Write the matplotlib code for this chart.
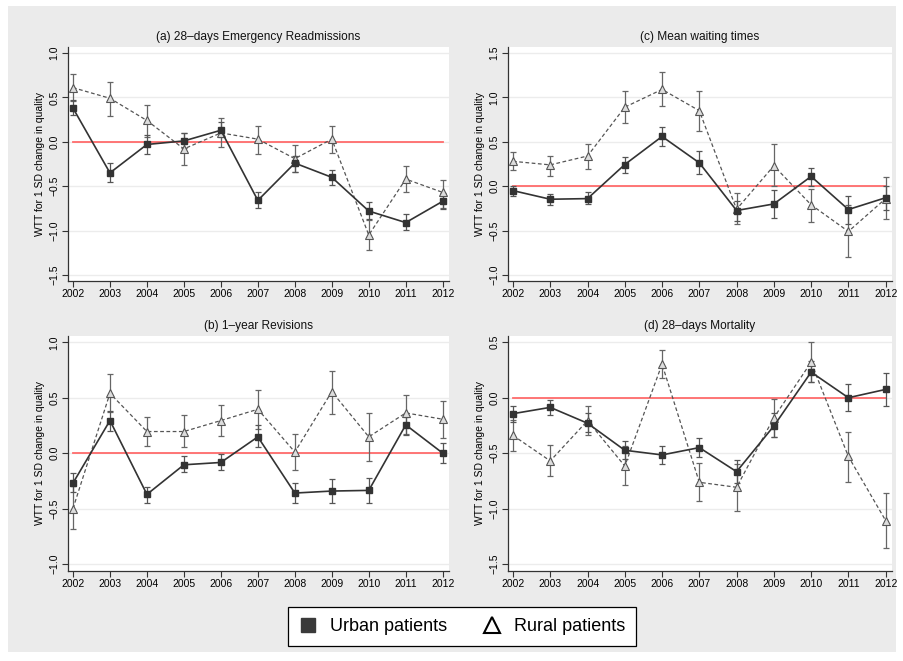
import matplotlib
matplotlib.use("Agg")
import matplotlib.pyplot as plt
from matplotlib.lines import Line2D
from matplotlib.patches import Rectangle

plt.rcParams['font.family'] = ['Liberation Sans', 'DejaVu Sans']

years = [2002, 2003, 2004, 2005, 2006, 2007, 2008, 2009, 2010, 2011, 2012]

# (a) 28-days Emergency Readmissions
a_urban = [0.38, -0.35, -0.03, 0.01, 0.13, -0.66, -0.24, -0.40, -0.78, -0.91, -0.67]
a_urban_lo = [0.30, -0.455, -0.135, -0.07, 0.05, -0.75, -0.34, -0.49, -0.865, -0.99, -0.755]
a_urban_hi = [0.47, -0.24, 0.08, 0.10, 0.22, -0.57, -0.165, -0.315, -0.68, -0.815, -0.58]
a_rural = [0.61, 0.49, 0.24, -0.08, 0.10, 0.03, -0.19, 0.03, -1.05, -0.42, -0.57]
a_rural_lo = [0.455, 0.29, 0.05, -0.26, -0.056, -0.135, -0.335, -0.13, -1.22, -0.57, -0.75]
a_rural_hi = [0.76, 0.67, 0.41, 0.10, 0.27, 0.18, -0.04, 0.18, -0.88, -0.27, -0.43]

# (b) 1-year Revisions
b_urban = [-0.27, 0.294, -0.372, -0.105, -0.084, 0.147, -0.36, -0.342, -0.336, 0.255, 0.0]
b_urban_lo = [-0.355, 0.204, -0.45, -0.174, -0.156, 0.054, -0.45, -0.45, -0.45, 0.165, -0.09]
b_urban_hi = [-0.18, 0.38, -0.306, -0.03, -0.012, 0.25, -0.27, -0.234, -0.225, 0.33, 0.096]
b_rural = [-0.50, 0.54, 0.195, 0.195, 0.294, 0.396, 0.01, 0.555, 0.147, 0.363, 0.306]
b_rural_lo = [-0.685, 0.375, 0.06, 0.054, 0.156, 0.22, -0.156, 0.354, -0.075, 0.174, 0.141]
b_rural_hi = [-0.30, 0.71, 0.33, 0.34, 0.43, 0.57, 0.174, 0.74, 0.366, 0.525, 0.474]

# (c) Mean waiting times
c_urban = [-0.05, -0.147, -0.14, 0.244, 0.56, 0.263, -0.274, -0.20, 0.11, -0.263, -0.13]
c_urban_lo = [-0.105, -0.21, -0.20, 0.15, 0.45, 0.135, -0.39, -0.36, 0.0, -0.425, -0.27]
c_urban_hi = [0.0, -0.09, -0.064, 0.33, 0.67, 0.395, -0.17, -0.04, 0.21, -0.105, 0.0]
c_rural = [0.28, 0.24, 0.34, 0.89, 1.09, 0.85, -0.26, 0.23, -0.21, -0.51, -0.14]
c_rural_lo = [0.18, 0.12, 0.19, 0.71, 0.90, 0.62, -0.425, 0.0, -0.40, -0.80, -0.37]
c_rural_hi = [0.39, 0.345, 0.475, 1.07, 1.29, 1.07, -0.08, 0.475, -0.03, -0.21, 0.10]

# (d) 28-days Mortality
d_urban = [-0.144, -0.087, -0.23, -0.474, -0.516, -0.45, -0.667, -0.255, 0.231, 0.0, 0.075]
d_urban_lo = [-0.216, -0.156, -0.306, -0.555, -0.60, -0.537, -0.77, -0.35, 0.144, -0.117, -0.075]
d_urban_hi = [-0.072, -0.02, -0.14, -0.387, -0.432, -0.36, -0.56, -0.14, 0.33, 0.12, 0.225]
d_rural = [-0.34, -0.57, -0.207, -0.616, 0.303, -0.763, -0.808, -0.18, 0.32, -0.53, -1.108]
d_rural_lo = [-0.483, -0.71, -0.336, -0.787, 0.174, -0.93, -1.02, -0.35, 0.144, -0.757, -1.357]
d_rural_hi = [-0.20, -0.43, -0.075, -0.44, 0.43, -0.59, -0.60, -0.012, 0.50, -0.306, -0.86]

panels = [
    ("(a) 28\u2013days Emergency Readmissions", [0.0752, 0.5749, 0.4215, 0.3540],
     (-1.568, 1.068), [-1.5, -1.0, -0.5, 0.0, 0.5, 1.0],
     a_urban, a_urban_lo, a_urban_hi, a_rural, a_rural_lo, a_rural_hi),
    ("(c) Mean waiting times", [0.5619, 0.5749, 0.4248, 0.3540],
     (-1.068, 1.568), [-1.0, -0.5, 0.0, 0.5, 1.0, 1.5],
     c_urban, c_urban_lo, c_urban_hi, c_rural, c_rural_lo, c_rural_hi),
    ("(b) 1\u2013year Revisions", [0.0752, 0.1362, 0.4215, 0.3555],
     (-1.063, 1.057), [-1.0, -0.5, 0.0, 0.5, 1.0],
     b_urban, b_urban_lo, b_urban_hi, b_rural, b_rural_lo, b_rural_hi),
    ("(d) 28\u2013days Mortality", [0.5619, 0.1362, 0.4248, 0.3555],
     (-1.563, 0.557), [-1.5, -1.0, -0.5, 0.0, 0.5],
     d_urban, d_urban_lo, d_urban_hi, d_rural, d_rural_lo, d_rural_hi),
]

fig = plt.figure(figsize=(9.04, 6.61), dpi=100, facecolor="white")
# light grey frame behind everything
fig.patches.append(Rectangle((0.009, 0.014), 0.982, 0.977, transform=fig.transFigure,
                             facecolor="#ebebeb", edgecolor="none", zorder=-10))

for title, pos, ylim, yticks, u, ulo, uhi, r, rlo, rhi in panels:
    ax = fig.add_axes(pos)
    ax.set_facecolor("white")
    ax.set_xlim(2001.865, 2012.17)
    ax.set_ylim(*ylim)
    ax.set_yticks(yticks)
    ax.set_yticklabels([f"{t:.1f}".replace("-", "\u2212") for t in yticks],
                       rotation=90, va="center")
    ax.set_xticks(years)
    ax.tick_params(labelsize=7.5, length=4, width=0.8, color="#333333", pad=2)
    for s in ["top", "right"]:
        ax.spines[s].set_visible(False)
    for s in ["left", "bottom"]:
        ax.spines[s].set_color("#333333")
        ax.spines[s].set_linewidth(0.9)
    ax.grid(axis="y", color="#ececec", linewidth=1.0)
    ax.set_axisbelow(True)

    ax.plot([years[0], years[-1]], [0, 0], color="#ff6b6b", linewidth=1.3, zorder=2)

    u_err = [[v - lo for v, lo in zip(u, ulo)], [hi - v for v, hi in zip(u, uhi)]]
    r_err = [[v - lo for v, lo in zip(r, rlo)], [hi - v for v, hi in zip(r, rhi)]]
    ax.errorbar(years, r, yerr=r_err, fmt="none", ecolor="#666666", elinewidth=0.9,
                capsize=2.5, capthick=0.9, zorder=3)
    ax.errorbar(years, u, yerr=u_err, fmt="none", ecolor="#555555", elinewidth=0.9,
                capsize=2.5, capthick=0.9, zorder=3)
    ax.plot(years, r, linestyle="--", dashes=(3, 2), color="#555555", linewidth=0.9,
            marker="^", markersize=5.5, markerfacecolor="#dddddd",
            markeredgecolor="#555555", markeredgewidth=0.8, zorder=4)
    ax.plot(years, u, linestyle="-", color="#333333", linewidth=1.2,
            marker="s", markersize=5, markerfacecolor="#333333",
            markeredgecolor="#333333", zorder=5)

    ax.set_title(title, fontsize=8.6, pad=5, color="#111111")
    ax.set_ylabel("WTT for 1 SD change in quality", fontsize=7.5, labelpad=3)

handles = [
    Line2D([], [], linestyle="none", marker="s", markersize=10.5,
           markerfacecolor="#3a3a3a", markeredgecolor="#3a3a3a"),
    Line2D([], [], linestyle="none", marker="^", markersize=11,
           markerfacecolor="white", markeredgecolor="black", markeredgewidth=1.5),
]
leg = fig.legend(handles, ["Urban patients", "Rural patients"], loc="center",
                 bbox_to_anchor=(0.511, 0.052), ncol=2, fontsize=13, frameon=True,
                 fancybox=False, edgecolor="black", framealpha=1,
                 handlelength=1.0, handletextpad=0.7, columnspacing=2.0,
                 borderpad=0.6)
leg.get_frame().set_linewidth(0.9)

fig.savefig("out.png", dpi=100, facecolor="white")
